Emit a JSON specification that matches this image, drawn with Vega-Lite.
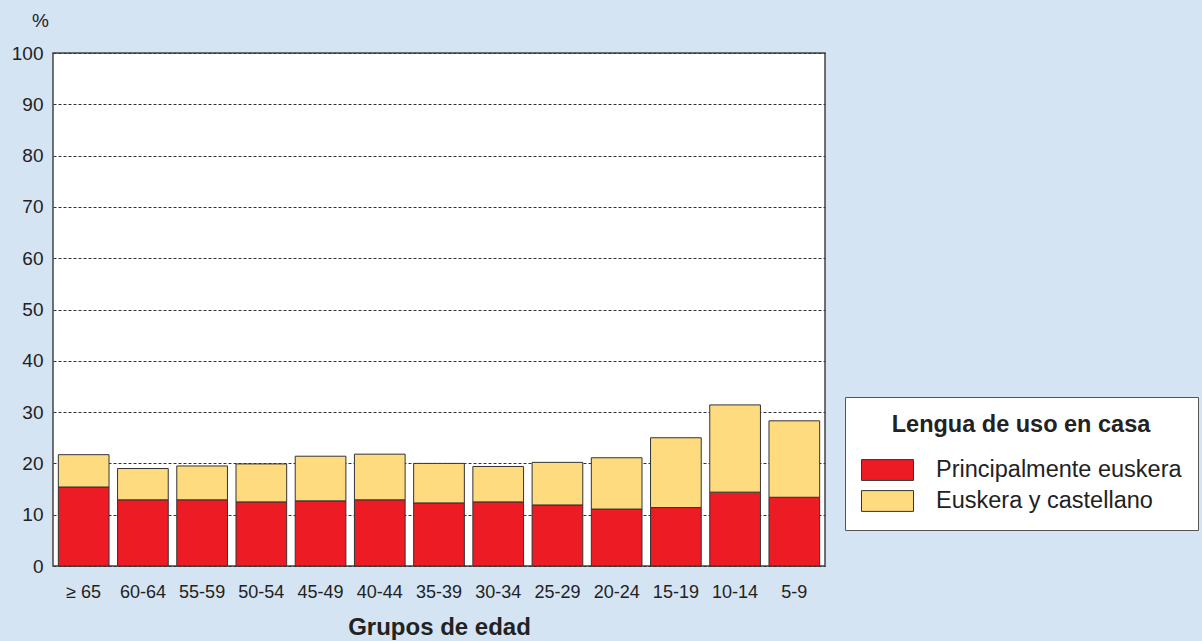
{
  "$schema": "https://vega.github.io/schema/vega-lite/v6.json",
  "autosize": {"type": "none"},
  "padding": {"left": 53, "top": 53, "right": 377, "bottom": 75},
  "width": 772,
  "height": 513,
  "background": "#D4E4F3",
  "data": {
    "values": [
      {"grupo": "≥ 65", "lengua": "Principalmente euskera", "orden": 1, "valor": 15.4},
      {"grupo": "≥ 65", "lengua": "Euskera y castellano", "orden": 2, "valor": 6.3},
      {"grupo": "60-64", "lengua": "Principalmente euskera", "orden": 1, "valor": 12.9},
      {"grupo": "60-64", "lengua": "Euskera y castellano", "orden": 2, "valor": 6.1},
      {"grupo": "55-59", "lengua": "Principalmente euskera", "orden": 1, "valor": 12.9},
      {"grupo": "55-59", "lengua": "Euskera y castellano", "orden": 2, "valor": 6.6},
      {"grupo": "50-54", "lengua": "Principalmente euskera", "orden": 1, "valor": 12.5},
      {"grupo": "50-54", "lengua": "Euskera y castellano", "orden": 2, "valor": 7.4},
      {"grupo": "45-49", "lengua": "Principalmente euskera", "orden": 1, "valor": 12.7},
      {"grupo": "45-49", "lengua": "Euskera y castellano", "orden": 2, "valor": 8.7},
      {"grupo": "40-44", "lengua": "Principalmente euskera", "orden": 1, "valor": 12.9},
      {"grupo": "40-44", "lengua": "Euskera y castellano", "orden": 2, "valor": 8.9},
      {"grupo": "35-39", "lengua": "Principalmente euskera", "orden": 1, "valor": 12.3},
      {"grupo": "35-39", "lengua": "Euskera y castellano", "orden": 2, "valor": 7.7},
      {"grupo": "30-34", "lengua": "Principalmente euskera", "orden": 1, "valor": 12.5},
      {"grupo": "30-34", "lengua": "Euskera y castellano", "orden": 2, "valor": 6.9},
      {"grupo": "25-29", "lengua": "Principalmente euskera", "orden": 1, "valor": 11.9},
      {"grupo": "25-29", "lengua": "Euskera y castellano", "orden": 2, "valor": 8.3},
      {"grupo": "20-24", "lengua": "Principalmente euskera", "orden": 1, "valor": 11.1},
      {"grupo": "20-24", "lengua": "Euskera y castellano", "orden": 2, "valor": 10.0},
      {"grupo": "15-19", "lengua": "Principalmente euskera", "orden": 1, "valor": 11.4},
      {"grupo": "15-19", "lengua": "Euskera y castellano", "orden": 2, "valor": 13.6},
      {"grupo": "10-14", "lengua": "Principalmente euskera", "orden": 1, "valor": 14.4},
      {"grupo": "10-14", "lengua": "Euskera y castellano", "orden": 2, "valor": 17.0},
      {"grupo": "5-9", "lengua": "Principalmente euskera", "orden": 1, "valor": 13.4},
      {"grupo": "5-9", "lengua": "Euskera y castellano", "orden": 2, "valor": 14.9}
    ]
  },
  "mark": {"type": "bar", "stroke": "#333333", "strokeWidth": 1},
  "encoding": {
    "x": {
      "field": "grupo",
      "type": "nominal",
      "sort": null,
      "scale": {"paddingInner": 0.144, "paddingOuter": 0.09},
      "axis": {
        "title": "Grupos de edad",
        "titleFontSize": 24,
        "titleFontWeight": "bold",
        "titleColor": "#222222",
        "titleBaseline": "top",
        "titleY": 49,
        "labelAngle": 0,
        "labelFontSize": 18,
        "labelColor": "#222222",
        "labelPadding": 17,
        "ticks": false,
        "domain": false
      }
    },
    "y": {
      "field": "valor",
      "type": "quantitative",
      "stack": "zero",
      "scale": {"domain": [0, 100], "nice": false},
      "axis": {
        "values": [0, 10, 20, 30, 40, 50, 60, 70, 80, 90, 100],
        "title": "%",
        "titleAngle": 0,
        "titleX": -13,
        "titleY": -33,
        "titleAlign": "center",
        "titleBaseline": "middle",
        "titleFontSize": 19,
        "titleFontWeight": "normal",
        "titleColor": "#222222",
        "labelFontSize": 19,
        "labelColor": "#222222",
        "labelPadding": 10,
        "ticks": false,
        "domain": false,
        "grid": true,
        "gridColor": "#333333",
        "gridWidth": 1,
        "gridDash": [3, 2]
      }
    },
    "color": {
      "field": "lengua",
      "type": "nominal",
      "sort": ["Principalmente euskera", "Euskera y castellano"],
      "scale": {
        "domain": ["Principalmente euskera", "Euskera y castellano"],
        "range": ["#ED1C24", "#FFDB7F"]
      },
      "legend": {
        "title": "Lengua de uso en casa",
        "orient": "none",
        "legendX": 792,
        "legendY": 344,
        "fillColor": "#FFFFFF",
        "strokeColor": "#555555",
        "padding": 16,
        "titleFontSize": 23.5,
        "titleFontWeight": "bold",
        "titleColor": "#222222",
        "titleAnchor": "middle",
        "titlePadding": 20,
        "titleLimit": 500,
        "labelFontSize": 23.5,
        "labelColor": "#222222",
        "labelLimit": 500,
        "labelOffset": 35,
        "symbolType": "M-2,-0.8H2V0.8H-2Z",
        "symbolSize": 676,
        "symbolOffset": 13,
        "symbolStrokeColor": "#333333",
        "symbolStrokeWidth": 1,
        "symbolOpacity": 1,
        "rowPadding": 5
      }
    },
    "order": {"field": "orden", "type": "quantitative"}
  },
  "config": {
    "font": "Liberation Sans",
    "view": {"fill": "#FFFFFF", "stroke": "#444444", "strokeWidth": 1.5}
  }
}
